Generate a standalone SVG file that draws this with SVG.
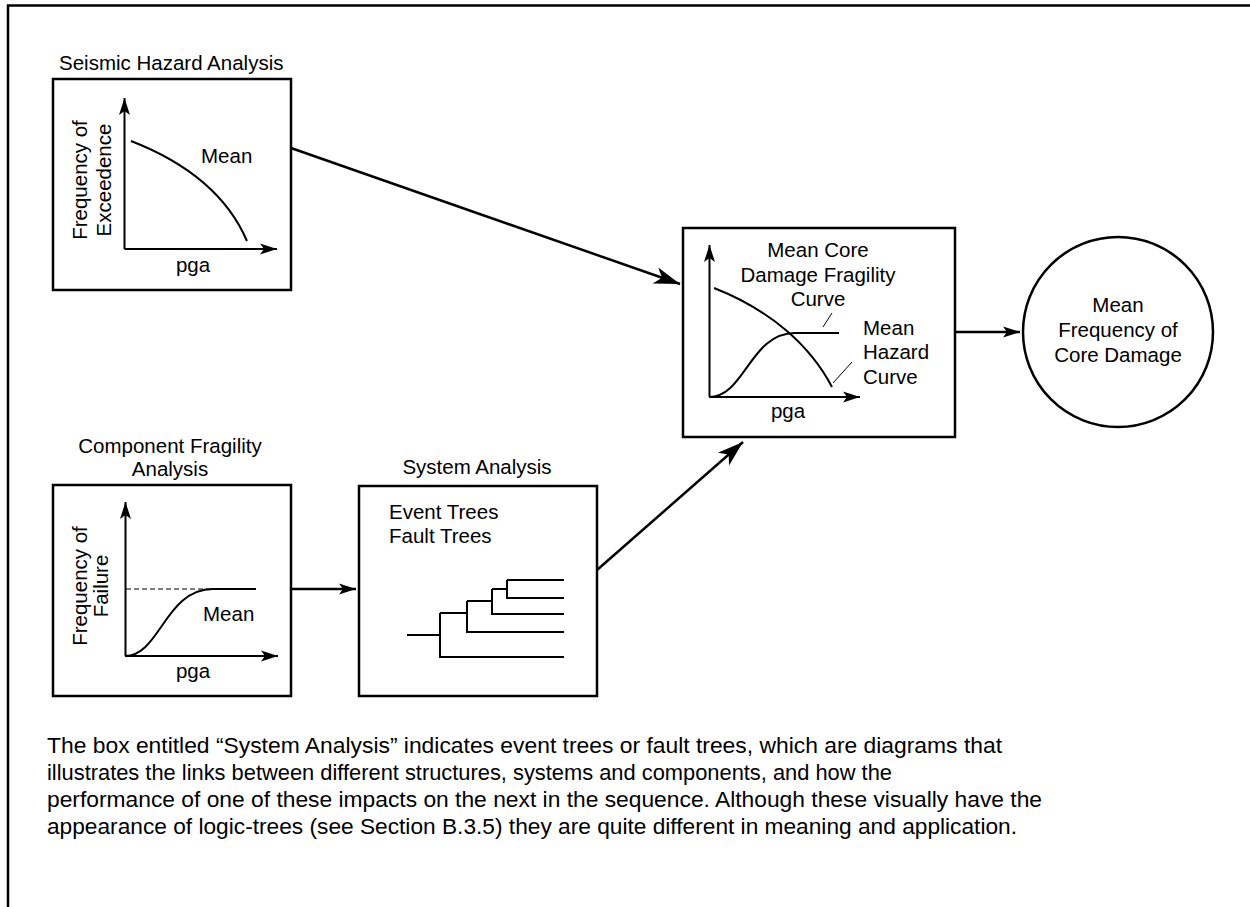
<svg xmlns="http://www.w3.org/2000/svg" width="1250" height="907" viewBox="0 0 1250 907">
  <style>
    .frame { fill: none; stroke: #000; stroke-width: 2.5; }
    .box { fill: #fff; stroke: #000; stroke-width: 2.5; }
    .axis { fill: none; stroke: #000; stroke-width: 2; }
    .curve { fill: none; stroke: #000; stroke-width: 2; }
    .thin { fill: none; stroke: #000; stroke-width: 1; }
    .dash { fill: none; stroke: #000; stroke-width: 1; stroke-dasharray: 5 3; }
    .conn { fill: none; stroke: #000; stroke-width: 2.5; }
    text { font-family: "Liberation Sans", Arial, sans-serif; fill: #000; }
    .lbl { font-size: 20.5px; }
    .mid { text-anchor: middle; }
    .para { font-size: 22.5px; }
  </style>
  <defs>
    <marker id="ah-small" markerUnits="userSpaceOnUse" markerWidth="20" markerHeight="14" viewBox="-18 -7 20 14" refX="0" refY="0" orient="auto">
      <path d="M0,0 L-17,-5.5 L-13,0 L-17,5.5 Z" fill="#000"/>
    </marker>
    <marker id="ah-big" markerUnits="userSpaceOnUse" markerWidth="30" markerHeight="20" viewBox="-28 -10 30 20" refX="0" refY="0" orient="auto">
      <path d="M0,0 L-26,-8.5 L-19,0 L-26,8.5 Z" fill="#000"/>
    </marker>
  </defs>

  <rect width="1250" height="907" fill="#fff"/>
  <!-- outer frame -->
  <path class="frame" d="M8,907 L8,5.5 L1250,5.5"/>

  <!-- connectors -->
  <g id="connectors">
    <line class="conn" x1="291" y1="148" x2="680" y2="284" marker-end="url(#ah-big)"/>
    <line class="conn" x1="597" y1="570" x2="743" y2="442" marker-end="url(#ah-big)"/>
    <line class="conn" x1="291" y1="589" x2="356" y2="589" marker-end="url(#ah-small)"/>
    <line class="conn" x1="955" y1="332" x2="1020" y2="332" marker-end="url(#ah-small)"/>
  </g>

  <!-- seismic hazard analysis -->
  <g id="seismic-hazard">
    <text class="lbl" x="59" y="70">Seismic Hazard Analysis</text>
    <rect class="box" x="53" y="79" width="238" height="211"/>
    <path class="axis" d="M124.5,249 L124.5,98" marker-end="url(#ah-small)"/>
    <path class="axis" d="M124.5,249 L277,249" marker-end="url(#ah-small)"/>
    <path class="curve" d="M131,141 C180,160 225,190 247,241"/>
    <text class="lbl" x="201" y="163">Mean</text>
    <text class="lbl mid" x="193" y="272">pga</text>
    <text class="lbl mid" transform="translate(87,180) rotate(-90)">Frequency of</text>
    <text class="lbl mid" transform="translate(111,180) rotate(-90)">Exceedence</text>
  </g>

  <!-- component fragility analysis -->
  <g id="component-fragility">
    <text class="lbl mid" x="170" y="453">Component Fragility</text>
    <text class="lbl mid" x="170" y="476">Analysis</text>
    <rect class="box" x="53" y="485" width="238" height="211"/>
    <path class="dash" d="M126,589 L213,589"/>
    <path class="axis" d="M125.5,656 L125.5,502" marker-end="url(#ah-small)"/>
    <path class="axis" d="M125.5,656 L278,656" marker-end="url(#ah-small)"/>
    <path class="curve" d="M125,656 C160,656 165,589 213,589 L256,589"/>
    <text class="lbl" x="203" y="621">Mean</text>
    <text class="lbl mid" x="193" y="678">pga</text>
    <text class="lbl mid" transform="translate(87,586) rotate(-90)">Frequency of</text>
    <text class="lbl mid" transform="translate(108,586) rotate(-90)">Failure</text>
  </g>

  <!-- system analysis -->
  <g id="system-analysis">
    <text class="lbl mid" x="477" y="474">System Analysis</text>
    <rect class="box" x="359" y="486" width="238" height="210"/>
    <text class="lbl" x="389" y="519">Event Trees</text>
    <text class="lbl" x="389" y="543">Fault Trees</text>
    <path class="curve" d="M407,635 L440,635 M440,613 L440,657 L564,657 M440,613 L467,613 M467,601 L467,632 L564,632 M467,601 L492,601 M492,589 L492,614 L564,614 M492,589 L507,589 M507,580 L507,598 L564,598 M507,580 L564,580"/>
  </g>

  <!-- mean core damage fragility -->
  <g id="core-damage-fragility">
    <rect class="box" x="683" y="228" width="272" height="209"/>
    <path class="axis" d="M709.5,397 L709.5,245" marker-end="url(#ah-small)"/>
    <path class="axis" d="M709.5,397 L860,397" marker-end="url(#ah-small)"/>
    <path class="curve" d="M714,288 C770,310 810,345 832,387"/>
    <path class="curve" d="M709,397 C745,397 750,333 795,333 L839,333"/>
    <path class="thin" d="M823,327 L832,313 M833,383 L852,362"/>
    <text class="lbl mid" x="818" y="257">Mean Core</text>
    <text class="lbl mid" x="818" y="282">Damage Fragility</text>
    <text class="lbl mid" x="818" y="306">Curve</text>
    <text class="lbl" x="863" y="335">Mean</text>
    <text class="lbl" x="863" y="359">Hazard</text>
    <text class="lbl" x="863" y="384">Curve</text>
    <text class="lbl mid" x="788" y="418">pga</text>
  </g>

  <!-- mean frequency of core damage -->
  <g id="core-damage-frequency">
    <circle class="box" cx="1118" cy="332" r="95"/>
    <text class="lbl mid" x="1118" y="312">Mean</text>
    <text class="lbl mid" x="1118" y="337">Frequency of</text>
    <text class="lbl mid" x="1118" y="362">Core Damage</text>
  </g>

  <!-- explanatory note -->
  <g id="note">
    <text class="para" x="47" y="753" textLength="955" lengthAdjust="spacingAndGlyphs">The box entitled “System Analysis” indicates event trees or fault trees, which are diagrams that</text>
    <text class="para" x="47" y="780" textLength="845" lengthAdjust="spacingAndGlyphs">illustrates the links between different structures, systems and components, and how the</text>
    <text class="para" x="47" y="807" textLength="995" lengthAdjust="spacingAndGlyphs">performance of one of these impacts on the next in the sequence. Although these visually have the</text>
    <text class="para" x="47" y="834" textLength="970" lengthAdjust="spacingAndGlyphs">appearance of logic-trees (see Section B.3.5) they are quite different in meaning and application.</text>
  </g>
</svg>
